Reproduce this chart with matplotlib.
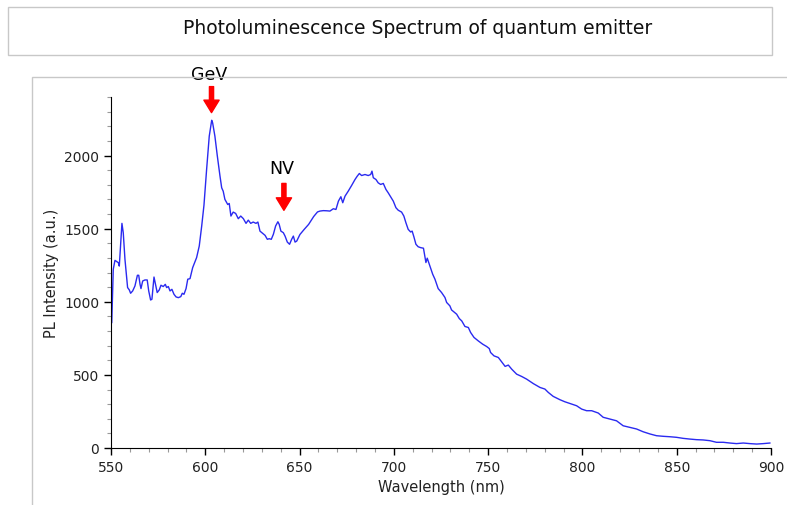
import matplotlib.pyplot as plt
from matplotlib.patches import Rectangle
from matplotlib.ticker import MultipleLocator

# spectrum
wavelength = [
    550.4, 551.2, 552.1, 553.9, 554.4, 555.8, 556.5, 557.4, 558.8, 559.7,
    560.4, 561.5, 562.7, 564.0, 564.7, 565.4, 565.9, 566.8, 568.0, 569.2,
    570.0, 571.0, 571.7, 572.8, 573.7, 574.5, 575.6, 576.5, 577.7, 578.8,
    579.5, 580.4, 581.3, 582.3, 583.4, 584.5, 585.7, 587.0, 587.8, 588.7,
    589.8, 590.7, 591.9, 593.3, 594.5, 595.4, 596.8, 598.1, 599.3,
    600.7, 602.1, 603.4, 603.9, 605.1, 606.4, 607.8, 608.7, 609.5, 610.4,
    611.9, 612.7, 613.6, 614.8, 616.1, 617.5, 618.8, 620.2, 621.6, 622.8,
    624.1, 625.4, 626.9, 627.9, 629.0, 630.4, 631.7, 632.9, 633.9, 635.0,
    636.1, 637.3, 638.5, 639.2, 640.1, 641.4, 642.3, 643.5, 644.7, 645.8,
    646.7, 647.6, 648.5, 650.2, 652.4, 654.8, 657.5, 659.5, 660.8, 662.6,
    664.4, 666.1, 667.9, 669.3, 670.6, 671.9, 672.9, 674.1, 675.8, 677.6,
    679.4, 680.6, 681.7, 682.9, 684.7, 686.4, 687.7, 688.4, 689.1, 690.5,
    691.7, 693.0, 694.4, 695.8, 697.0, 698.3, 699.7, 701.1, 702.3, 704.1,
    705.3, 706.4, 707.6, 708.9, 709.7, 710.6, 711.7, 712.9, 714.2, 715.7,
    717.0, 717.7, 719.1, 720.6, 721.8, 723.5, 725.3, 727.1, 728.0, 729.7,
    730.6, 733.3, 734.7, 736.0, 737.7, 739.5, 740.7, 742.5, 744.8, 747.1,
    749.2, 750.6, 751.3, 753.1, 755.4, 757.2, 759.0, 760.7, 762.5, 765.1,
    767.8, 770.4, 774.0, 777.5, 780.1, 781.9, 784.5, 788.1, 790.7, 794.3,
    796.9, 799.6, 802.2, 804.9, 808.4, 811.0, 814.6, 818.1, 821.6, 825.2,
    828.7, 832.2, 835.8, 839.3, 842.8, 846.4, 849.9, 853.4, 857.0, 860.5,
    864.0, 867.6, 871.1, 874.7, 878.2, 881.7, 885.3, 888.8, 892.4, 895.9,
    899.4,
]
intensity = [
    858, 1222, 1283, 1267, 1244, 1536, 1472, 1290, 1097, 1081,
    1058, 1074, 1108, 1181, 1181, 1119, 1090, 1142, 1149, 1149,
    1074, 1012, 1017, 1169, 1113, 1063, 1081, 1113, 1104, 1119,
    1097, 1104, 1074, 1085, 1051, 1033, 1028, 1035, 1058, 1051,
    1090, 1154, 1158, 1233, 1272, 1302, 1381, 1518, 1660,
    1904, 2132, 2241, 2223, 2132, 1995, 1859, 1779, 1756, 1700,
    1665, 1672, 1586, 1613, 1604, 1568, 1586, 1568, 1536, 1558,
    1536, 1545, 1536, 1545, 1483, 1468, 1454, 1427, 1431, 1427,
    1461, 1518, 1547, 1529, 1483, 1472, 1449, 1408, 1393, 1427,
    1449, 1408, 1415, 1460, 1494, 1529, 1583, 1614, 1620, 1623,
    1622, 1620, 1636, 1631, 1688, 1718, 1677, 1722, 1756, 1795,
    1836, 1859, 1877, 1863, 1870, 1863, 1870, 1893, 1848, 1836,
    1813, 1802, 1809, 1768, 1745, 1718, 1688, 1643, 1626, 1613,
    1586, 1540, 1495, 1477, 1483, 1445, 1393, 1376, 1370, 1366,
    1268, 1298, 1245, 1188, 1154, 1090, 1063, 1029, 995, 972,
    944, 915, 885, 869, 831, 824, 790, 756, 732, 710,
    694, 680, 653, 630, 619, 589, 558, 567, 539, 505,
    489, 471, 440, 414, 403, 380, 353, 330, 316, 300,
    289, 266, 255, 255, 239, 210, 198, 186, 152, 141,
    130, 111, 96, 84, 80, 77, 73, 66, 61, 57,
    55, 50, 39, 39, 34, 30, 34, 30, 27, 30,
    34,
]

peak_labels = ["GeV", "NV"]
peak_pos = [603.3, 641.7]
arrow_tail = [2471, 1809]
arrow_head = [2293, 1625]
label_y = [2560, 1915]

fig = plt.figure(figsize=(7.87, 5.06), dpi=100)

# title box and panel frame
fig.patches.append(Rectangle((8 / 787, 1 - 56 / 506), 764 / 787, 48 / 506,
                             transform=fig.transFigure, fill=False,
                             edgecolor="#c8c8c8", linewidth=1))
fig.patches.append(Rectangle((32 / 787, -0.1), 1.0, 1 - 78 / 506 + 0.1,
                             transform=fig.transFigure, fill=False,
                             edgecolor="#c8c8c8", linewidth=1))
fig.text(418 / 787, 1 - 29 / 506, "Photoluminescence Spectrum of quantum emitter",
         ha="center", va="center", fontsize=13.5, color="#111111")

ax = fig.add_axes([111 / 787, 1 - 449 / 506, 660 / 787, 351 / 506])
ax.plot(wavelength, intensity, color="#2a2af0", linewidth=1.0)

ax.set_xlim(550, 900)
ax.set_ylim(0, 2400)
ax.xaxis.set_major_locator(MultipleLocator(50))
ax.xaxis.set_minor_locator(MultipleLocator(10))
ax.yaxis.set_major_locator(MultipleLocator(500))
ax.yaxis.set_minor_locator(MultipleLocator(100))
ax.tick_params(which="major", length=5, width=1, labelsize=10, labelcolor="#222222")
ax.tick_params(which="minor", length=3, width=0.8, color="#999999")
for side in ["top", "right"]:
    ax.spines[side].set_visible(False)
ax.set_xlabel("Wavelength (nm)", fontsize=10.5, color="#222222")
ax.set_ylabel("PL Intensity (a.u.)", fontsize=10.5, color="#222222")

for lab, x, t, h, ly in zip(peak_labels, peak_pos, arrow_tail, arrow_head, label_y):
    ax.annotate("", xy=(x, h), xytext=(x, t), annotation_clip=False,
                arrowprops=dict(facecolor="red", edgecolor="red", width=3,
                                headwidth=11, headlength=9, shrink=0))
    ax.text(x - 1, ly, lab, ha="center", va="center", fontsize=12.5, clip_on=False)

plt.savefig("out.png", dpi=100)
